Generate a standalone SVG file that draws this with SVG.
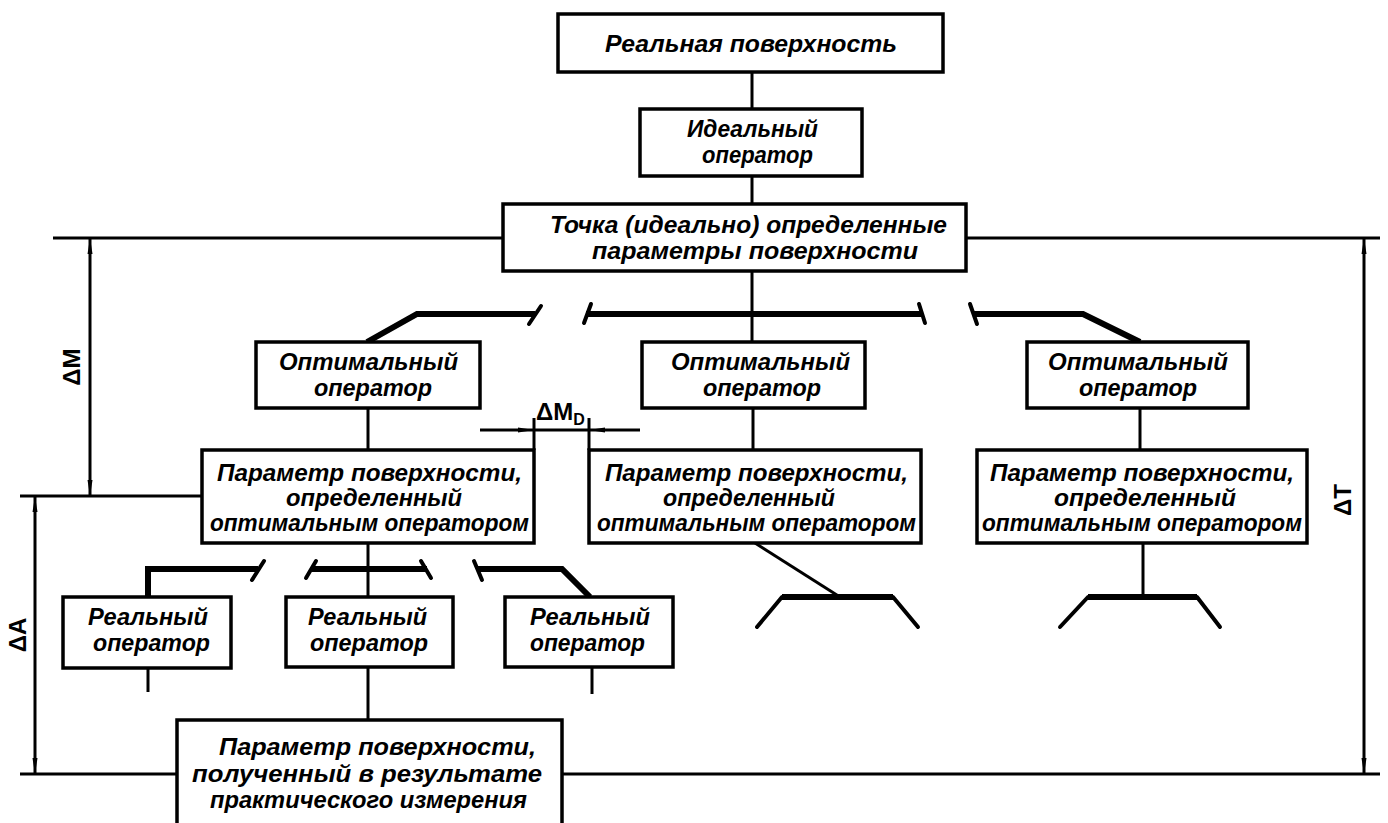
<svg xmlns="http://www.w3.org/2000/svg" width="1388" height="823" viewBox="0 0 1388 823">
<style>
.box{fill:#fff;stroke:#000;stroke-width:3.5}
.ln{fill:none;stroke:#000;stroke-width:3;stroke-linecap:butt}
.bar{fill:none;stroke:#000;stroke-width:6;stroke-linejoin:miter}
.tick{fill:none;stroke:#000;stroke-width:4;stroke-linecap:round}
.leg{fill:none;stroke:#000;stroke-width:4;stroke-linecap:round}
.dim{fill:none;stroke:#000;stroke-width:3}
.t{font-family:"Liberation Sans","DejaVu Sans",sans-serif;font-style:italic;font-weight:bold;font-size:24px;fill:#000}
.d{font-family:"Liberation Sans","DejaVu Sans",sans-serif;font-weight:bold;font-size:24px;fill:#000}
</style>
<defs>
<marker id="ar" viewBox="0 0 16 6" refX="16" refY="3" markerWidth="16" markerHeight="6" markerUnits="userSpaceOnUse" orient="auto">
<path d="M0,0.5 L16,3 L0,5.5 Z" fill="#000"/>
</marker>
</defs>

<g id="connectors">
<line class="ln" x1="752" y1="72" x2="752" y2="109"/>
<line class="ln" x1="752" y1="176" x2="752" y2="204"/>
<line class="ln" x1="752" y1="271" x2="752" y2="342"/>
<line class="bar" x1="586" y1="314" x2="922" y2="314"/>
<line class="tick" x1="591" y1="304" x2="584" y2="323"/>
<line class="tick" x1="919" y1="304" x2="925" y2="323"/>
<polyline class="bar" points="367,342 417,314 535,314"/>
<line class="tick" x1="541" y1="306" x2="529" y2="324"/>
<polyline class="bar" points="973,314 1083,314 1140,342"/>
<line class="tick" x1="970" y1="304" x2="977" y2="324"/>
<line class="ln" x1="368" y1="408" x2="368" y2="450"/>
<line class="ln" x1="753" y1="408" x2="753" y2="450"/>
<line class="ln" x1="1140" y1="408" x2="1140" y2="450"/>
<line class="ln" x1="368" y1="543" x2="368" y2="720"/>
<line class="bar" x1="311" y1="569" x2="427" y2="569"/>
<line class="tick" x1="316" y1="561" x2="306" y2="578"/>
<line class="tick" x1="421" y1="561" x2="431" y2="578"/>
<polyline class="bar" points="148,597 148,569 258,569"/>
<line class="tick" x1="264" y1="561" x2="252" y2="580"/>
<polyline class="bar" points="477,569 562,569 590,597"/>
<line class="tick" x1="474" y1="561" x2="482" y2="580"/>
<line class="ln" x1="148" y1="668" x2="148" y2="692"/>
<line class="ln" x1="592" y1="667" x2="592" y2="694"/>
<line class="ln" x1="755" y1="543" x2="840" y2="597"/>
<line class="bar" x1="782" y1="597" x2="893" y2="597"/>
<line class="leg" x1="782" y1="597" x2="757" y2="627"/>
<line class="leg" x1="893" y1="597" x2="918" y2="627"/>
<line class="ln" x1="1143" y1="543" x2="1143" y2="597"/>
<line class="bar" x1="1088" y1="597" x2="1197" y2="597"/>
<line class="leg" x1="1088" y1="597" x2="1060" y2="627"/>
<line class="leg" x1="1197" y1="597" x2="1220" y2="627"/>
<line class="dim" x1="53" y1="238" x2="503" y2="238"/>
<line class="dim" x1="966" y1="238" x2="1380" y2="238"/>
<line class="dim" x1="20" y1="496" x2="202" y2="496"/>
<line class="dim" x1="20" y1="774" x2="177" y2="774"/>
<line class="dim" x1="562" y1="774" x2="1380" y2="774"/>
<line class="dim" x1="90" y1="367" x2="90" y2="238" marker-end="url(#ar)"/>
<line class="dim" x1="90" y1="367" x2="90" y2="496" marker-end="url(#ar)"/>
<line class="dim" x1="35" y1="635" x2="35" y2="496" marker-end="url(#ar)"/>
<line class="dim" x1="35" y1="635" x2="35" y2="774" marker-end="url(#ar)"/>
<line class="dim" x1="1364" y1="506" x2="1364" y2="238" marker-end="url(#ar)"/>
<line class="dim" x1="1364" y1="506" x2="1364" y2="774" marker-end="url(#ar)"/>
<line class="dim" x1="534" y1="418" x2="534" y2="450"/>
<line class="dim" x1="589" y1="418" x2="589" y2="450"/>
<line class="dim" x1="534" y1="430" x2="589" y2="430"/>
<line class="dim" x1="480" y1="430" x2="534" y2="430" marker-end="url(#ar)"/>
<line class="dim" x1="640" y1="430" x2="589" y2="430" marker-end="url(#ar)"/>
</g>

<g id="n-real-surface">
<rect class="box" x="558" y="14" width="385" height="58"/>
<text class="t" x="605" y="52" textLength="292" lengthAdjust="spacingAndGlyphs">Реальная поверхность</text>
</g>
<g id="n-ideal-operator">
<rect class="box" x="640" y="109" width="222" height="67"/>
<text class="t" x="687" y="137" textLength="131" lengthAdjust="spacingAndGlyphs">Идеальный</text>
<text class="t" x="702" y="163" textLength="111" lengthAdjust="spacingAndGlyphs">оператор</text>
</g>
<g id="n-ideal-params">
<rect class="box" x="503" y="204" width="463" height="67"/>
<text class="t" x="550" y="233" textLength="397" lengthAdjust="spacingAndGlyphs">Точка (идеально) определенные</text>
<text class="t" x="592" y="259" textLength="326" lengthAdjust="spacingAndGlyphs">параметры поверхности</text>
</g>

<g id="n-opt-1">
<rect class="box" x="256" y="342" width="224" height="66"/>
<text class="t" x="279" y="370" textLength="179" lengthAdjust="spacingAndGlyphs">Оптимальный</text>
<text class="t" x="314" y="396" textLength="118" lengthAdjust="spacingAndGlyphs">оператор</text>
</g>
<g id="n-opt-2">
<rect class="box" x="642" y="342" width="223" height="66"/>
<text class="t" x="671" y="370" textLength="179" lengthAdjust="spacingAndGlyphs">Оптимальный</text>
<text class="t" x="703" y="396" textLength="118" lengthAdjust="spacingAndGlyphs">оператор</text>
</g>
<g id="n-opt-3">
<rect class="box" x="1027" y="342" width="221" height="66"/>
<text class="t" x="1048" y="370" textLength="180" lengthAdjust="spacingAndGlyphs">Оптимальный</text>
<text class="t" x="1079" y="396" textLength="118" lengthAdjust="spacingAndGlyphs">оператор</text>
</g>

<g id="n-param-1">
<rect class="box" x="202" y="450" width="332" height="93"/>
<text class="t" x="217" y="481" textLength="305" lengthAdjust="spacingAndGlyphs">Параметр поверхности,</text>
<text class="t" x="286" y="506" textLength="176" lengthAdjust="spacingAndGlyphs">определенный</text>
<text class="t" x="210" y="531" textLength="319" lengthAdjust="spacingAndGlyphs">оптимальным оператором</text>
</g>
<g id="n-param-2">
<rect class="box" x="589" y="450" width="332" height="93"/>
<text class="t" x="605" y="481" textLength="303" lengthAdjust="spacingAndGlyphs">Параметр поверхности,</text>
<text class="t" x="663" y="506" textLength="172" lengthAdjust="spacingAndGlyphs">определенный</text>
<text class="t" x="597" y="531" textLength="319" lengthAdjust="spacingAndGlyphs">оптимальным оператором</text>
</g>
<g id="n-param-3">
<rect class="box" x="977" y="450" width="330" height="93"/>
<text class="t" x="990" y="481" textLength="304" lengthAdjust="spacingAndGlyphs">Параметр поверхности,</text>
<text class="t" x="1054" y="506" textLength="182" lengthAdjust="spacingAndGlyphs">определенный</text>
<text class="t" x="982" y="531" textLength="320" lengthAdjust="spacingAndGlyphs">оптимальным оператором</text>
</g>

<g id="n-real-op-1">
<rect class="box" x="63" y="597" width="168" height="71"/>
<text class="t" x="88" y="625" textLength="120" lengthAdjust="spacingAndGlyphs">Реальный</text>
<text class="t" x="93" y="651" textLength="117" lengthAdjust="spacingAndGlyphs">оператор</text>
</g>
<g id="n-real-op-2">
<rect class="box" x="286" y="597" width="167" height="70"/>
<text class="t" x="308" y="625" textLength="119" lengthAdjust="spacingAndGlyphs">Реальный</text>
<text class="t" x="310" y="651" textLength="118" lengthAdjust="spacingAndGlyphs">оператор</text>
</g>
<g id="n-real-op-3">
<rect class="box" x="505" y="597" width="168" height="70"/>
<text class="t" x="530" y="625" textLength="120" lengthAdjust="spacingAndGlyphs">Реальный</text>
<text class="t" x="530" y="651" textLength="115" lengthAdjust="spacingAndGlyphs">оператор</text>
</g>

<g id="n-measured">
<rect class="box" x="177" y="720" width="385" height="115"/>
<text class="t" x="219" y="755" textLength="317" lengthAdjust="spacingAndGlyphs">Параметр поверхности,</text>
<text class="t" x="192" y="782" textLength="350" lengthAdjust="spacingAndGlyphs">полученный в результате</text>
<text class="t" x="210" y="808" textLength="317" lengthAdjust="spacingAndGlyphs">практического измерения</text>
</g>

<g id="labels">
<text class="d" transform="translate(80,367) rotate(-90)" text-anchor="middle">ΔM</text>
<text class="d" transform="translate(26,635) rotate(-90)" text-anchor="middle">ΔA</text>
<text class="d" transform="translate(1351,500) rotate(-90)" text-anchor="middle">ΔT</text>
<text class="d" x="536" y="420">ΔM<tspan font-size="16" dy="5">D</tspan></text>
</g>
</svg>
